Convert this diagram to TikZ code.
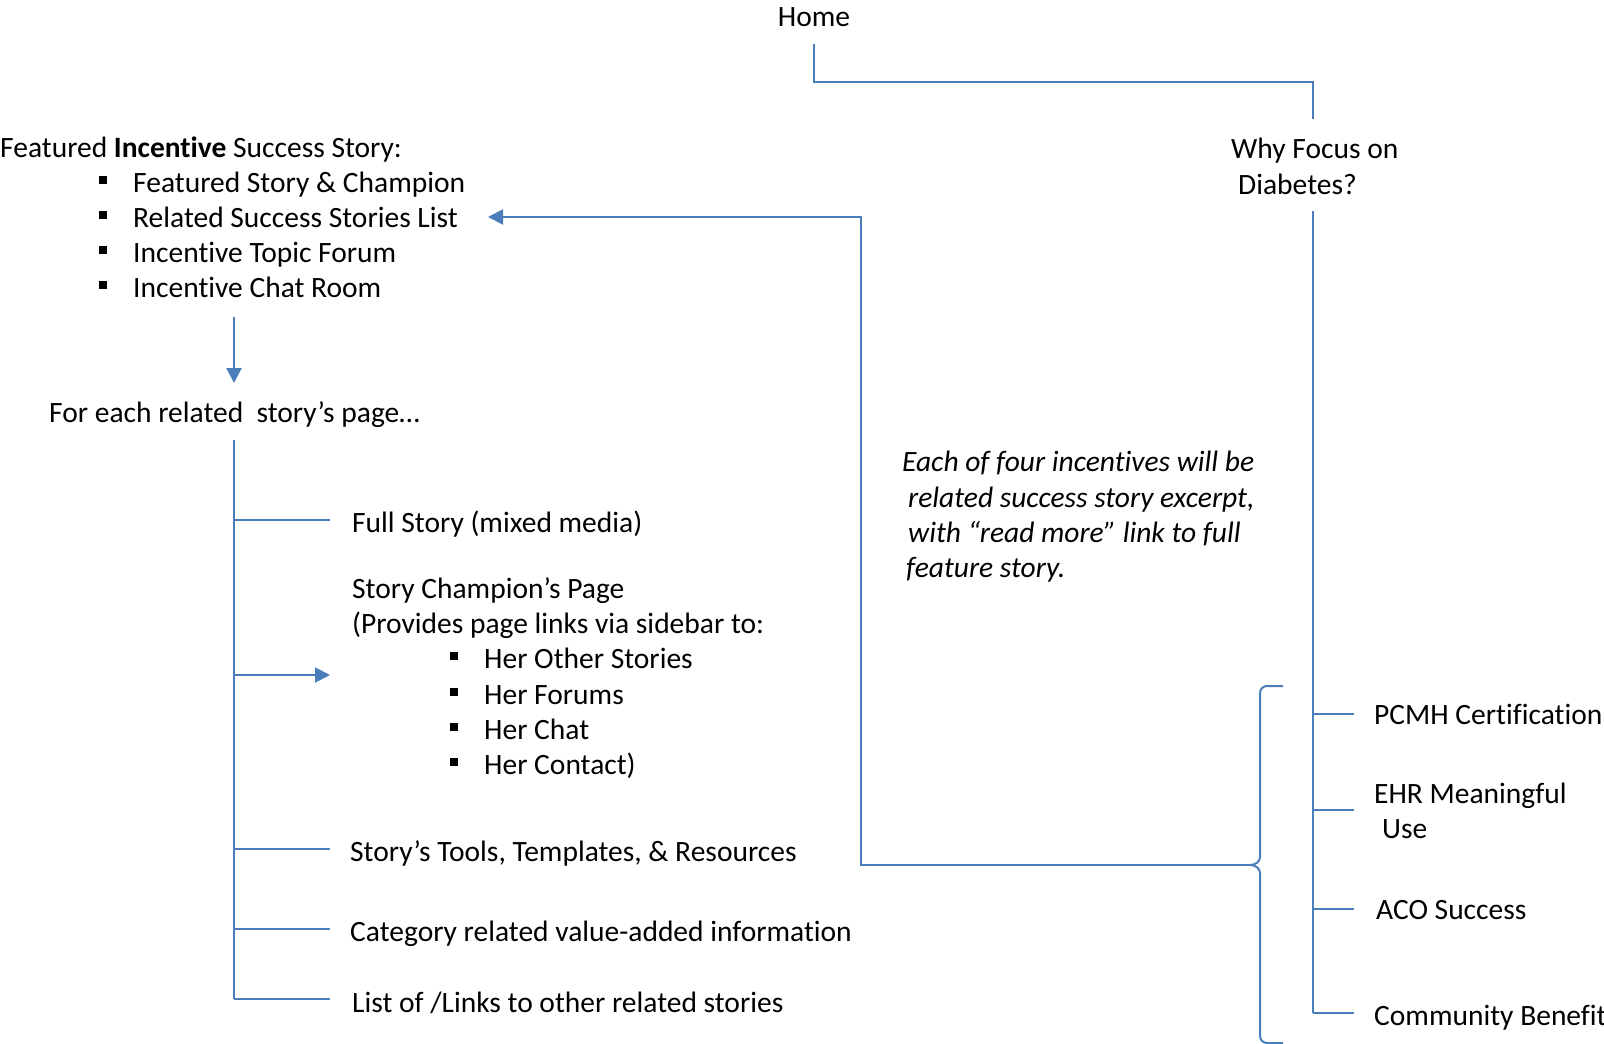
\documentclass[tikz,border=0pt]{standalone}
\usepackage{fontspec}
\setmainfont{Carlito}[Ligatures=NoCommon]
\usetikzlibrary{arrows.meta}
\definecolor{linkblue}{RGB}{74,126,187}

\begin{document}
\begin{tikzpicture}[x=1pt,y=-1pt,
  lbl/.style={anchor=base west, inner sep=0pt, font=\fontsize{29.5}{35}\selectfont},
  note/.style={lbl, font=\fontsize{29.5}{35}\selectfont\itshape},
  wire/.style={draw=linkblue, line width=2pt},
  arr/.style={wire, -{Triangle[length=15pt,width=15pt]}},
  bul/.style={fill=black, minimum size=8pt, inner sep=0pt}
]
\useasboundingbox (0,0) rectangle (1604,1044);

% ---------- top level ----------
\node[lbl, anchor=base] (home) at (814,27) {Home};
\node[lbl] (why1) at (1231,158) {Why Focus on};
\node[lbl] (why2) at (1238,194) {Diabetes?};

% ---------- featured story block ----------
\node[lbl] (feat) at (0,157) {Featured \textbf{Incentive} Success Story:};
\node[bul] (fb1) at (103,180) {};
\node[bul] (fb2) at (103,215) {};
\node[bul] (fb3) at (103,250) {};
\node[bul] (fb4) at (103,285) {};
\node[lbl] (f1) at (133,192) {Featured Story \& Champion};
\node[lbl] (f2) at (133,227) {Related Success Stories List};
\node[lbl] (f3) at (133,262) {Incentive Topic Forum};
\node[lbl] (f4) at (133,297) {Incentive Chat Room};

% ---------- per-story page ----------
\node[lbl] (each) at (49,422) {For each related\ \ story’s page…};
\node[lbl] (full) at (352,532) {Full Story (mixed media)};
\node[lbl] (champ) at (352,598) {Story Champion’s Page};
\node[lbl] (prov) at (352,633) {(Provides page links via sidebar to:};
\node[bul] (hb1) at (454,656) {};
\node[bul] (hb2) at (454,692) {};
\node[bul] (hb3) at (454,727) {};
\node[bul] (hb4) at (454,762) {};
\node[lbl] (h1) at (484,668) {Her Other Stories};
\node[lbl] (h2) at (484,704) {Her Forums};
\node[lbl] (h3) at (484,739) {Her Chat};
\node[lbl] (h4) at (484,774) {Her Contact)};
\node[lbl] (tools) at (350,861) {Story’s Tools, Templates, \& Resources};
\node[lbl] (cat) at (350,941) {Category related value-added information};
\node[lbl] (links) at (352,1012) {List of /Links to other related stories};

% ---------- note ----------
\node[note] (n1) at (902,471) {Each of four incentives will be};
\node[note] (n2) at (908,507) {related success story excerpt,};
\node[note] (n3) at (908,542) {with “read more” link to full};
\node[note] (n4) at (906,577) {feature story.};

% ---------- incentives ----------
\node[lbl] (pcmh) at (1374,724) {PCMH Certification};
\node[lbl] (ehr) at (1374,803) {EHR Meaningful};
\node[lbl] (ehr2) at (1382,838) {Use};
\node[lbl] (aco) at (1376,919) {ACO Success};
\node[lbl] (comm) at (1374,1025) {Community Benefit};

% ---------- connector points ----------
\coordinate (homeA) at (814,44);
\coordinate (homeB) at (814,82);
\coordinate (homeC) at (1313,82);
\coordinate (whyTop) at (1313,119);
\coordinate (whyA) at (1313,211);
\coordinate (whyB) at (1313,1013);
\coordinate (brTip) at (1250,865);
\coordinate (loopA) at (861,865);
\coordinate (loopB) at (861,217);
\coordinate (loopEnd) at (488,217);
\coordinate (downA) at (234,317);
\coordinate (downB) at (234,383);
\coordinate (trA) at (234,440);
\coordinate (trB) at (234,999);

% Home -> Why Focus on Diabetes?
\draw[wire] (homeA) -- (homeB) -- (homeC) -- (whyTop);

% incentive tree
\draw[wire] (whyA) -- (whyB);
\draw[wire] (1313,714) -- (1354,714);
\draw[wire] (1313,810) -- (1354,810);
\draw[wire] (1313,909) -- (1354,909);
\draw[wire] (1313,1013) -- (1354,1013);

% brace grouping the incentives
\draw[wire] (1283,686) -- (1267,686) to[out=180,in=90] (1260,693) -- (1260,857)
  to[out=-90,in=0] (brTip) to[out=0,in=90] (1260,873) -- (1260,1036)
  to[out=-90,in=180] (1267,1043) -- (1283,1043);

% brace -> related success stories list
\draw[arr] (brTip) -- (loopA) -- (loopB) -- (loopEnd);

% featured story -> per-story page
\draw[arr] (downA) -- (downB);

% per-story page tree
\draw[wire] (trA) -- (trB);
\draw[wire] (234,520) -- (330,520);
\draw[arr] (234,675) -- (330,675);
\draw[wire] (234,849) -- (330,849);
\draw[wire] (234,929) -- (330,929);
\draw[wire] (234,999) -- (330,999);
\end{tikzpicture}
\end{document}
